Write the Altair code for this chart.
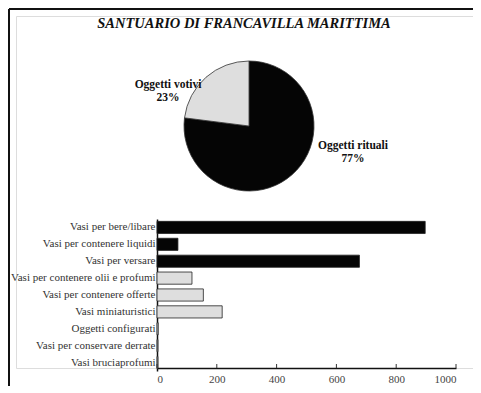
import altair as alt
import pandas as pd

# ---- data ----
title_text = "SANTUARIO DI FRANCAVILLA MARITTIMA"

pie_categories = ["Oggetti rituali", "Oggetti votivi"]
pie_percent = [77, 23]

bar_labels = [
    "Vasi per bere/libare",
    "Vasi per contenere liquidi",
    "Vasi per versare",
    "Vasi per contenere olii e profumi",
    "Vasi per contenere offerte",
    "Vasi miniaturistici",
    "Oggetti configurati",
    "Vasi per conservare derrate",
    "Vasi bruciaprofumi",
]
bar_values = [897, 70, 677, 117, 155, 218, 4, 3, 3]
bar_group = ["Oggetti rituali"] * 3 + ["Oggetti votivi"] * 6

x_ticks = [0, 200, 400, 600, 800, 1000]

pie_df = pd.DataFrame({"categoria": pie_categories, "perc": pie_percent})
bar_df = pd.DataFrame({"tipo": bar_labels, "n": bar_values, "categoria": bar_group})
tick_df = pd.DataFrame({"v": x_ticks})

W, H = 457, 352
SERIF = "Liberation Serif"

color_scale = alt.Scale(domain=pie_categories, range=["#050505", "#dedede"])

# frame lines (left and top)
left_rule = alt.Chart(pie_df.head(1)).mark_rule(color="#111", strokeWidth=2).encode(
    x=alt.value(-7), y=alt.value(-7), y2=alt.value(H + 18)
)
top_rule = alt.Chart(pie_df.head(1)).mark_rule(color="#111", strokeWidth=2).encode(
    x=alt.value(-7), x2=alt.value(W), y=alt.value(-7)
)

title = alt.Chart(pd.DataFrame({"t": [title_text]})).mark_text(
    font=SERIF, fontSize=14.5, fontWeight="bold", fontStyle="italic", color="#111",
    align="center", baseline="middle"
).encode(x=alt.value(228), y=alt.value(8), text="t:N")

pie = alt.Chart(pie_df).mark_arc(outerRadius=65, stroke="#333", strokeWidth=0.8).encode(
    theta=alt.Theta("perc:Q", stack=True),
    color=alt.Color("categoria:N", scale=color_scale, legend=None),
    order=alt.Order("categoria:N", sort="ascending"),
    x=alt.value(233), y=alt.value(110),
)

pie_lbl = pie_df.assign(lbl=[f"{c}\n{p}%" for c, p in zip(pie_categories, pie_percent)])
lbl_rit = alt.Chart(pie_lbl[pie_lbl.categoria == "Oggetti rituali"]).mark_text(
    font=SERIF, fontSize=11.5, fontWeight="bold", color="#111", align="center",
    baseline="middle", lineBreak="\n", lineHeight=13
).encode(x=alt.value(337), y=alt.value(130), text="lbl:N")
lbl_vot = alt.Chart(pie_lbl[pie_lbl.categoria == "Oggetti votivi"]).mark_text(
    font=SERIF, fontSize=11.5, fontWeight="bold", color="#111", align="center",
    baseline="middle", lineBreak="\n", lineHeight=13
).encode(x=alt.value(152), y=alt.value(69), text="lbl:N")

x_enc = alt.X(
    "n:Q",
    scale=alt.Scale(domain=[0, 1000], range=[141, 440], nice=False),
    axis=alt.Axis(
        title=None, values=x_ticks, format="d", ticks=False, tickSize=0, grid=False,
        labelFont=SERIF, labelFontSize=11, labelColor="#444", labelPadding=5,
        domainColor="#111", domainWidth=1.5,
    ),
)
y_enc = alt.Y(
    "tipo:N", sort=bar_labels,
    scale=alt.Scale(range=[203, 355], paddingInner=0.28, paddingOuter=0.14),
    axis=alt.Axis(
        title=None, ticks=False, offset=-141, labelFont=SERIF, labelFontSize=11,
        labelColor="#333", labelPadding=2, labelLimit=0,
        domainColor="#111", domainWidth=1.5,
    ),
)

bars = alt.Chart(bar_df).mark_bar(stroke="#222", strokeWidth=0.8).encode(
    x=x_enc, y=y_enc,
    color=alt.Color("categoria:N", scale=color_scale, legend=None),
)

ticks = alt.Chart(tick_df).mark_rule(color="#333", strokeWidth=1).encode(
    x=alt.X("v:Q"), y=alt.value(H - 4), y2=alt.value(H)
)

chart = alt.layer(
    left_rule, top_rule, title, pie, lbl_rit, lbl_vot, bars, ticks
).properties(
    width=W, height=H,
    autosize=alt.AutoSizeParams(type="none"),
    padding={"left": 8, "top": 8, "right": 0, "bottom": 18},
).configure_view(stroke=None).configure(background="white")

chart.save("out.html", embed_options={"renderer": "svg", "actions": False})
